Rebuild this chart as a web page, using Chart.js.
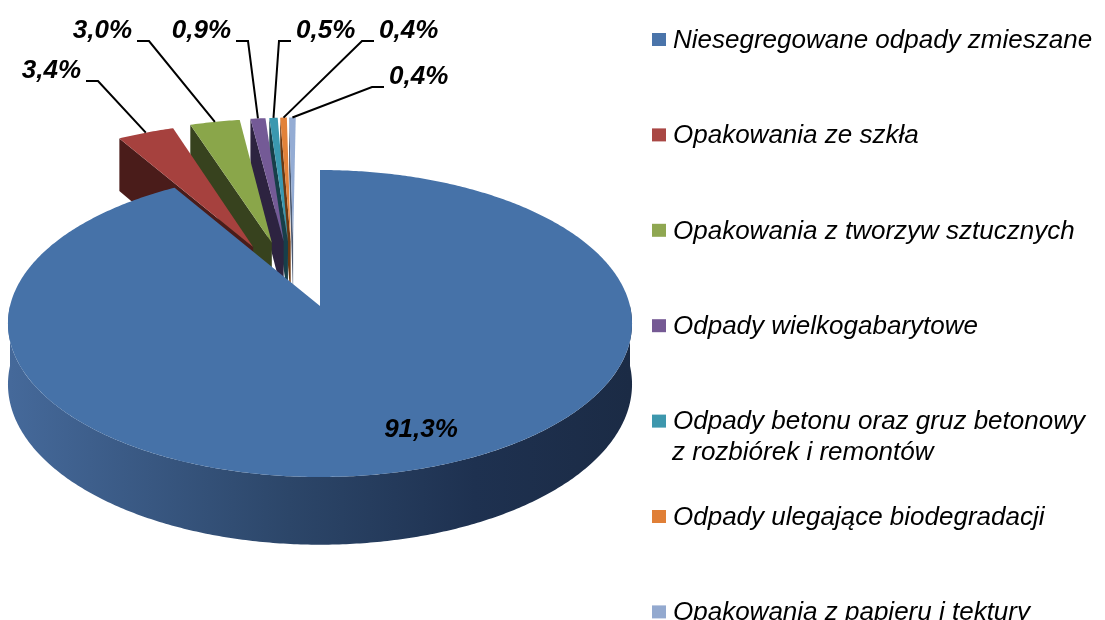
<!DOCTYPE html>
<html>
<head>
<meta charset="utf-8">
<script src="https://cdn.jsdelivr.net/npm/chart.js@4/dist/chart.umd.min.js"></script>
<style>
  html, body { margin: 0; padding: 0; background: #fff; overflow: hidden; }
</style>
</head>
<body>
<canvas id="chart" width="1105" height="620"></canvas>
<script>
// data
const categories = [
  'Niesegregowane odpady zmieszane',
  'Opakowania ze szkła',
  'Opakowania z tworzyw sztucznych',
  'Odpady wielkogabarytowe',
  ['Odpady betonu oraz gruz betonowy', 'z rozbiórek i remontów'],
  'Odpady ulegające biodegradacji',
  'Opakowania z papieru i tektury'
];
const shares = [91.3, 3.4, 3.0, 0.9, 0.5, 0.4, 0.4];
const exploded = [false, true, true, true, true, true, true];

// colours
const topColors = ['#4672A8', '#A6413E', '#8AA64A', '#745A96', '#3A98B0', '#E2823A', '#94ACD4'];
const faceColors = ['#1F3350', '#4A1C1A', '#37421E', '#2D2340', '#173F49', '#6A3812', '#4C5A72'];
const legendColors = ['#4A74AA', '#A94744', '#8FA751', '#755994', '#3D97AD', '#E07F37', '#93A9CF'];

// 3d look of the pie
const geo = { cx: 320, cy: 306, rx: 310, ry: 151.5, persp: 0.114, depth: 60,
              explodeU: 0.33, explodeW: 0.45, drift: -0.087 };

// where the percentage labels sit (elbow of the leader line, text side)
const labelLayout = [
  { x: 421, y: 437, center: true },
  { x: 98, y: 81, side: -1 },
  { x: 149, y: 41, side: -1 },
  { x: 248, y: 41, side: -1 },
  { x: 279, y: 41, side: 1 },
  { x: 362, y: 41, side: 1 },
  { x: 372, y: 87, side: 1 }
];

function proj(u, w, h) {
  const s = 1 / (1 - geo.persp * w);
  return [geo.cx + geo.rx * u * s, geo.cy + (geo.ry * w + geo.depth * h) * s];
}

function arcPts(ou, ow, a0, a1, h) {
  const n = Math.max(2, Math.ceil(Math.abs(a1 - a0) / 0.01));
  const pts = [];
  for (let i = 0; i <= n; i++) {
    const a = a0 + (a1 - a0) * i / n;
    pts.push(proj(ou + Math.cos(a), ow + Math.sin(a), h));
  }
  return pts;
}

function fillPoly(ctx, pts, fill) {
  ctx.beginPath();
  pts.forEach((p, i) => i ? ctx.lineTo(p[0], p[1]) : ctx.moveTo(p[0], p[1]));
  ctx.closePath();
  ctx.fillStyle = fill;
  ctx.fill();
}

function pctText(v) {
  return v.toFixed(1).replace('.', ',') + '%';
}

const pie3d = {
  id: 'pie3d',
  beforeDatasetsDraw() {
    return false; // we paint the slices ourselves in 3d
  },
  afterDraw(chart) {
    const ctx = chart.ctx;
    const arcs = chart.getDatasetMeta(0).data;
    const slices = arcs.map((arc, i) => {
      const p = arc.getProps(['startAngle', 'endAngle'], true);
      const mid = (p.startAngle + p.endAngle) / 2;
      const ex = exploded[i];
      return {
        i: i,
        a0: p.startAngle,
        a1: p.endAngle,
        ou: ex ? geo.explodeU * Math.cos(mid) + geo.drift : 0,
        ow: ex ? geo.explodeW * Math.sin(mid) : 0
      };
    });

    ctx.save();
    // exploded slices, from the back one forwards
    const order = slices.filter(s => exploded[s.i]).reverse();
    order.forEach(s => {
      const vt = proj(s.ou, s.ow, 0), vb = proj(s.ou, s.ow, 1);
      const st = proj(s.ou + Math.cos(s.a0), s.ow + Math.sin(s.a0), 0);
      const sb = proj(s.ou + Math.cos(s.a0), s.ow + Math.sin(s.a0), 1);
      fillPoly(ctx, [vt, st, sb, vb], faceColors[s.i]);
      fillPoly(ctx, [vt].concat(arcPts(s.ou, s.ow, s.a0, s.a1, 0)), topColors[s.i]);
    });

    // the big slice in front
    slices.filter(s => !exploded[s.i]).forEach(s => {
      const f0 = Math.max(s.a0, 0), f1 = Math.min(s.a1, Math.PI);
      if (f1 > f0) {
        const band = arcPts(s.ou, s.ow, f0, f1, 0).concat(arcPts(s.ou, s.ow, f1, f0, 1));
        const g = ctx.createLinearGradient(geo.cx - geo.rx, 0, geo.cx + geo.rx, 0);
        g.addColorStop(0, '#45699A');
        g.addColorStop(0.45, '#2C4669');
        g.addColorStop(0.75, '#1E3150');
        g.addColorStop(1, '#1B2B45');
        fillPoly(ctx, band, g);
      }
      fillPoly(ctx, [proj(s.ou, s.ow, 0)].concat(arcPts(s.ou, s.ow, s.a0, s.a1, 0)), topColors[s.i]);
    });

    // percentage labels
    ctx.font = 'italic bold 26px "Liberation Sans", Arial, sans-serif';
    ctx.fillStyle = '#000';
    ctx.strokeStyle = '#000';
    ctx.lineWidth = 2;
    ctx.textBaseline = 'alphabetic';
    slices.forEach(s => {
      const lay = labelLayout[s.i];
      const txt = pctText(shares[s.i]);
      if (lay.center) {
        ctx.textAlign = 'center';
        ctx.fillText(txt, lay.x, lay.y);
        return;
      }
      const mid = (s.a0 + s.a1) / 2;
      const anchor = proj(s.ou + Math.cos(mid), s.ow + Math.sin(mid), 0);
      ctx.beginPath();
      ctx.moveTo(anchor[0], anchor[1]);
      ctx.lineTo(lay.x, lay.y);
      ctx.lineTo(lay.x + lay.side * 12, lay.y);
      ctx.stroke();
      ctx.textAlign = lay.side < 0 ? 'right' : 'left';
      ctx.fillText(txt, lay.x + lay.side * 17, lay.y - 3);
    });

    // legend
    ctx.font = 'italic 26px "Liberation Sans", Arial, sans-serif';
    ctx.textAlign = 'left';
    ctx.textBaseline = 'middle';
    chart.data.labels.forEach((lab, i) => {
      const y = 39.5 + i * 95.4;
      ctx.fillStyle = legendColors[i];
      ctx.fillRect(652, y - 6.5, 14, 13);
      ctx.fillStyle = '#000';
      const lines = Array.isArray(lab) ? lab : [lab];
      lines.forEach((ln, j) => ctx.fillText(ln, j ? 672 : 673, y + 1 + j * 31));
    });
    ctx.restore();
  }
};

new Chart(document.getElementById('chart'), {
  type: 'pie',
  data: {
    labels: categories,
    datasets: [{
      data: shares,
      backgroundColor: topColors,
      borderWidth: 0
    }]
  },
  options: {
    responsive: false,
    animation: false,
    events: [],
    plugins: {
      legend: { display: false },
      tooltip: { enabled: false }
    }
  },
  plugins: [pie3d]
});
</script>
</body>
</html>
